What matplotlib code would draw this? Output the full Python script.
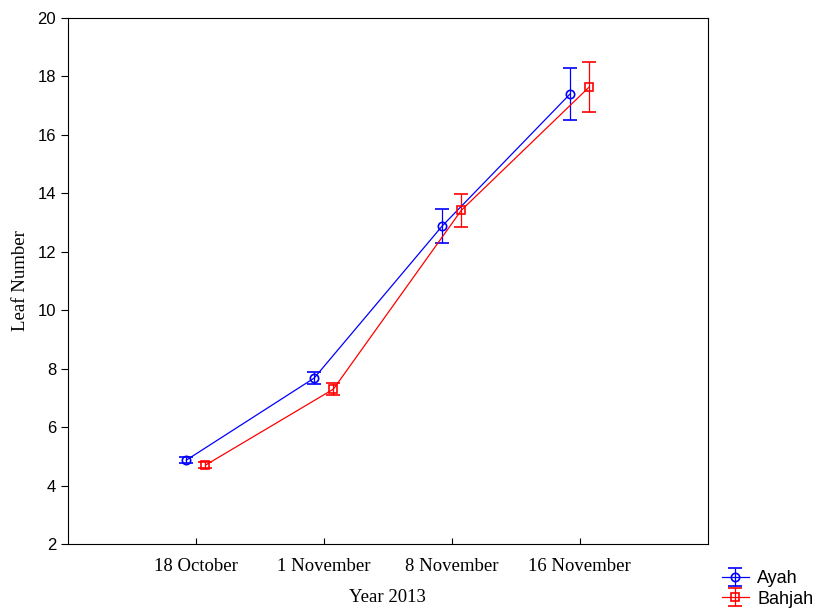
import matplotlib
matplotlib.use("Agg")
import matplotlib.pyplot as plt
import numpy as np

# data
dates = ["18 October", "1 November", "8 November", "16 November"]
ayah = [4.87, 7.68, 12.88, 17.40]
ayah_err = [0.10, 0.20, 0.57, 0.88]
bahjah = [4.70, 7.30, 13.42, 17.64]
bahjah_err = [0.10, 0.20, 0.57, 0.87]

x = np.arange(1, len(dates) + 1)
shift = 0.075

fig = plt.figure(figsize=(8.13, 6.09), dpi=100)
ax = fig.add_axes([0.0836, 0.1067, 0.7867, 0.8637])

serif = "Liberation Serif"
sans = "Liberation Sans"

ax.errorbar(x - shift, ayah, yerr=ayah_err, color="blue", marker="o", ms=6,
            mfc="none", mew=1.2, lw=0.9, capsize=5, elinewidth=0.9, label="Ayah")
ax.errorbar(x + shift, bahjah, yerr=bahjah_err, color="red", marker="s", ms=6,
            mfc="none", mew=1.2, lw=0.9, capsize=5, elinewidth=0.9, label="Bahjah")

ax.set_xlim(0, 5)
ax.set_ylim(2, 20)
ax.set_xticks(x)
ax.set_xticklabels(dates, fontfamily=serif, fontsize=13.5)
ax.set_yticks(np.arange(2, 21, 2))
for t in ax.get_yticklabels():
    t.set_fontfamily(sans)
    t.set_fontsize(12)
ax.tick_params(axis="x", direction="in", length=4, pad=10)
ax.tick_params(axis="y", direction="out", length=5)

ax.set_xlabel("Year 2013", fontfamily=serif, fontsize=13.5, labelpad=10)
ax.set_ylabel("Leaf Number", fontfamily=serif, fontsize=13.5, labelpad=6)

fig.legend(loc="lower left", bbox_to_anchor=(0.888, 0.002), frameon=False,
           borderpad=0, borderaxespad=0,
           prop={"family": sans, "size": 13}, handlelength=1.5,
           handletextpad=0.45, labelspacing=0.2)

fig.savefig("out.png", dpi=100)
